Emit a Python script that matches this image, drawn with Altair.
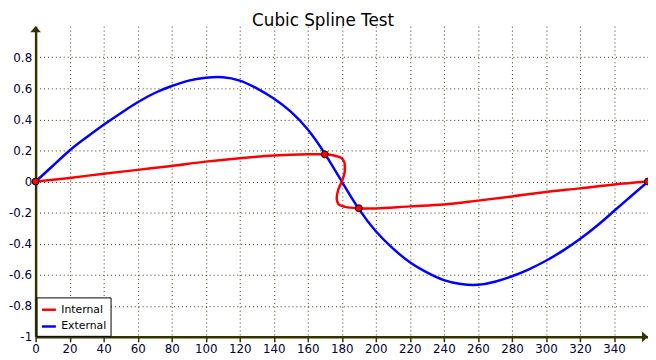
import altair as alt
import pandas as pd

# External (blue) spline samples
ext_x = [0, 10, 20, 30, 40, 50, 60, 70, 80, 90, 100, 110, 120, 130, 140, 150, 160, 170, 180,
         190, 200, 210, 220, 230, 240, 250, 260, 270, 280, 290, 300, 310, 320, 330, 340, 350, 360]
ext_y = [0.0, 0.10, 0.20, 0.285, 0.365, 0.44, 0.51, 0.57, 0.615, 0.65, 0.668, 0.672, 0.65, 0.60,
         0.535, 0.45, 0.335, 0.18, 0.0, -0.176, -0.32, -0.43, -0.52, -0.585, -0.635, -0.66, -0.665,
         -0.645, -0.61, -0.565, -0.51, -0.445, -0.37, -0.285, -0.19, -0.095, 0.0]

# Internal (red) parametric spline path (in drawing order)
int_x = [0, 20, 40, 60, 80, 100, 120, 140, 160, 170, 176, 180, 181.6, 181.8, 181.6, 180, 178,
         177, 178, 182, 190, 200, 220, 240, 260, 280, 300, 320, 340, 360]
int_y = [0.0, 0.023, 0.05, 0.075, 0.10, 0.128, 0.15, 0.167, 0.175, 0.175, 0.166, 0.15, 0.12,
         0.09, 0.055, 0.0, -0.05, -0.11, -0.145, -0.163, -0.172, -0.173, -0.16, -0.148, -0.123,
         -0.096, -0.067, -0.044, -0.019, 0.0]

# Control points of the internal spline
ctrl_x = [0, 170, 190, 360]
ctrl_y = [0.0, 0.175, -0.172, 0.0]

x_ticks = list(range(0, 360, 20))
y_ticks = [-1, -0.8, -0.6, -0.4, -0.2, 0, 0.2, 0.4, 0.6, 0.8]

series = ["Internal", "External"]
colors = ["#ff0000", "#0000ff"]

ext_df = pd.DataFrame({"x": ext_x, "y": ext_y, "series": "External", "i": range(len(ext_x))})
int_df = pd.DataFrame({"x": int_x, "y": int_y, "series": "Internal", "i": range(len(int_x))})
ctrl_df = pd.DataFrame({"x": ctrl_x, "y": ctrl_y})
arrow_df = pd.DataFrame({"x": [0, 360], "y": [1, -1],
                         "shape": ["M0,0L1,1.1L-1,1.1Z", "M0,0L-1.1,-1L-1.1,1Z"]})

AX = "#333300"
FONT = "DejaVu Sans"

xs = alt.Scale(domain=[0, 360], nice=False, zero=False)
ys = alt.Scale(domain=[-1, 1], nice=False, zero=False)
cs = alt.Scale(domain=series, range=colors)

label_expr = "datum.value < 0 ? '-' + format(-datum.value, '~g') : format(datum.value, '~g')"

x_axis = alt.Axis(values=x_ticks, title=None, labelPadding=2, tickSize=5, tickColor=AX,
                  tickWidth=1.5)
y_axis = alt.Axis(values=y_ticks, title=None, labelPadding=4, ticks=False, labelExpr=label_expr)

legend = alt.Legend(title=None, orient="bottom-left", offset=1, fillColor="white",
                    strokeColor="black", padding=4, symbolType="stroke", symbolStrokeWidth=2.5,
                    symbolSize=200, labelFont=FONT, labelFontSize=11, labelColor="black",
                    rowPadding=3)
C = alt.Color("series:N", scale=cs, legend=legend)

ext_line = alt.Chart(ext_df).mark_line(interpolate="natural", strokeWidth=2.5).encode(
    color=C, order="i:Q")
int_line = alt.Chart(int_df).mark_line(interpolate="catmull-rom", strokeWidth=2.5).encode(
    color=C, order="i:Q")
pts = alt.Chart(ctrl_df).mark_point(filled=True, fill="#ff0000", stroke="black", strokeWidth=1,
                                    size=50, opacity=1)
arrows = alt.Chart(arrow_df).mark_point(filled=True, color=AX, size=121, opacity=1).encode(
    shape=alt.Shape("shape:N", scale=None))

chart = alt.layer(ext_line, int_line, pts, arrows).encode(
    x=alt.X("x:Q", scale=xs, axis=x_axis),
    y=alt.Y("y:Q", scale=ys, axis=y_axis),
).properties(
    width=621, height=315,
    title=alt.TitleParams("Cubic Spline Test", font=FONT, fontSize=17, fontWeight="normal",
                          color="black", anchor="middle", dx=-19, dy=4, offset=0),
    autosize=alt.AutoSizeParams(type="none"),
    padding={"left": 28, "top": 16, "right": 0, "bottom": 20},
).configure_view(stroke=None).configure_axis(
    grid=True, labelOverlap=False, labelFlush=False, labelBound=False,
    labelFont=FONT, labelFontSize=12, labelColor="#000033",
    domainColor=AX, domainWidth=2.5, gridColor=AX, gridDash=[1, 3], gridWidth=1, gridOpacity=1)

chart.save("out.html", embed_options={"renderer": "svg", "actions": False})
